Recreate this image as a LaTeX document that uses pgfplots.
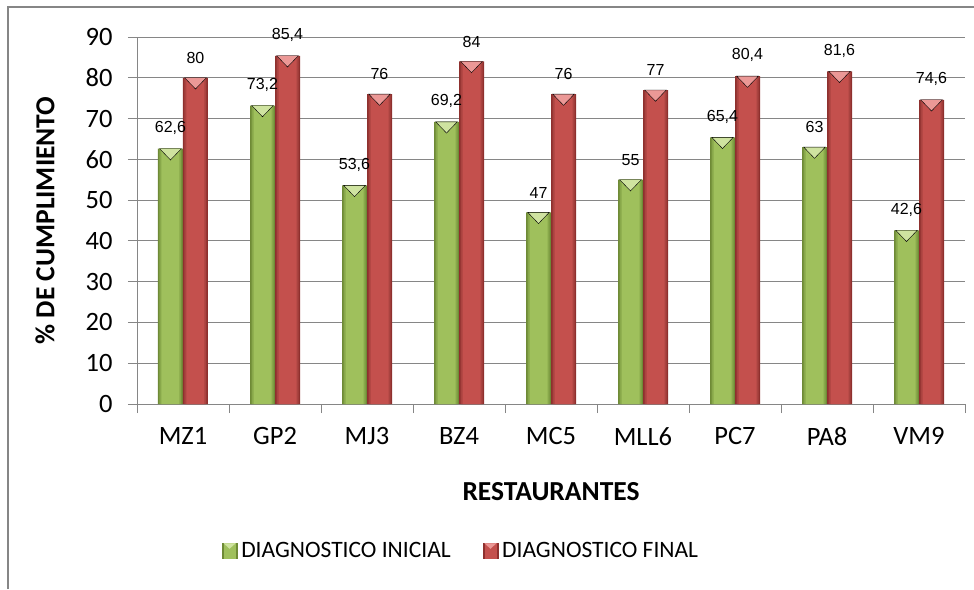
\documentclass[border=0pt]{standalone}
\usepackage{fontspec}
\setmainfont{Carlito}
\newfontfamily\arialf{Liberation Sans}
\usepackage{pgfplots}
\pgfplotsset{compat=1.18}

\definecolor{axgray}{HTML}{868686}
\definecolor{gL}{HTML}{9FC05C}
\definecolor{gM}{HTML}{88A84A}
\definecolor{gD}{HTML}{6E8A36}
\definecolor{gT}{HTML}{CFE3A0}
\definecolor{rL}{HTML}{C4504D}
\definecolor{rM}{HTML}{AA4340}
\definecolor{rD}{HTML}{8E302E}
\definecolor{rT}{HTML}{EB9896}

\pgfplotstableread{
x ini fin
0 62.6 80
1 73.2 85.4
2 53.6 76
3 69.2 84
4 47 76
5 55 77
6 65.4 80.4
7 63 81.6
8 42.6 74.6
}\datatable

\begin{document}
\begin{tikzpicture}
\path[use as bounding box] (-137pt,-185pt) rectangle (837pt,404pt);
\begin{axis}[
  at={(0pt,0pt)}, anchor=south west,
  scale only axis, width=828pt, height=367pt,
  xmin=-0.5, xmax=8.5, ymin=0, ymax=90,
  ytick={0,10,...,90},
  xtick={-0.5,0.5,...,8.5}, xticklabels={},
  extra x ticks={0,1,...,8},
  extra x tick labels={MZ1,GP2,MJ3,BZ4,MC5,MLL6,PC7,PA8,VM9},
  extra x tick style={major tick length=0pt, grid=none},
  axis x line*=bottom, axis y line*=left,
  axis line style={axgray, line width=0.9pt, -},
  tick style={axgray, line width=0.9pt},
  tick align=outside, major tick length=9pt,
  ymajorgrids, grid style={axgray, line width=0.9pt},
  ticklabel style={font=\fontsize{26.5}{27}\selectfont, text=black},
  xticklabel shift=20pt, yticklabel shift=12pt,
  /pgf/number format/assume math mode=true,
  /pgf/number format/use comma,
  /pgf/number format/1000 sep={},
  xlabel={RESTAURANTES},
  ylabel={\% DE CUMPLIMIENTO},
  every axis x label/.style={at={(axis description cs:0.5,-0.2398)}, anchor=center, font=\bfseries\fontsize{27.5}{28}\selectfont},
  every axis y label/.style={at={(axis description cs:-0.1111,0.5)}, anchor=center, rotate=90, font=\bfseries\fontsize{27.5}{28}\selectfont},
  clip=false,
  legend style={at={(axis description cs:0.3925,-0.4005)}, anchor=center, draw=none,
    font=\fontsize{23.5}{24}\selectfont, legend columns=2,
    nodes={inner xsep=4pt},
    /tikz/every even column/.append style={column sep=28pt}},
  every node near coord/.append style={font=\arialf\fontsize{16}{16}\selectfont, text=black, anchor=south, inner sep=0pt, yshift=14pt},
]
\addlegendimage{legend image code/.code={\fill[gD] (0pt,-7.5pt) rectangle (15pt,7.5pt); \fill[gL] (2pt,-7.5pt) rectangle (13pt,7.5pt); \fill[gT] (2pt,7.5pt) -- (13pt,7.5pt) -- (7.5pt,2.5pt) -- cycle;}}
\addlegendentry{DIAGNOSTICO INICIAL}
\addlegendimage{legend image code/.code={\fill[rD] (0pt,-7.5pt) rectangle (15pt,7.5pt); \fill[rL] (2pt,-7.5pt) rectangle (13pt,7.5pt); \fill[rT] (2pt,7.5pt) -- (13pt,7.5pt) -- (7.5pt,2.5pt) -- cycle;}}
\addlegendentry{DIAGNOSTICO FINAL}

% green bars: dark edge, mid, light core
\addplot[ybar, bar width=25pt, bar shift=-12.5pt, fill=gD, draw=none,
  nodes near coords, every node near coord/.append style={xshift=-12.5pt}, forget plot] table[x=x, y=ini] {\datatable};
\addplot[ybar, bar width=22pt, bar shift=-12.5pt, fill=gM, draw=none, forget plot] table[x=x, y=ini] {\datatable};
\addplot[ybar, bar width=18pt, bar shift=-12.5pt, fill=gL, draw=none, forget plot] table[x=x, y=ini] {\datatable};
% red bars
\addplot[ybar, bar width=25pt, bar shift=12.5pt, fill=rD, draw=none,
  nodes near coords, every node near coord/.append style={xshift=12.5pt}, forget plot] table[x=x, y=fin] {\datatable};
\addplot[ybar, bar width=22pt, bar shift=12.5pt, fill=rM, draw=none, forget plot] table[x=x, y=fin] {\datatable};
\addplot[ybar, bar width=18pt, bar shift=12.5pt, fill=rL, draw=none, forget plot] table[x=x, y=fin] {\datatable};

\addplot[only marks, forget plot, xshift=-12.5pt, yshift=-3.75pt, mark=triangle*, mark size=12.5pt,
  mark options={fill=gT, draw=none, rotate=180, yscale=0.6}] table[x=x, y=ini] {\datatable};
\addplot[only marks, forget plot, xshift=12.5pt, yshift=-3.75pt, mark=triangle*, mark size=12.5pt,
  mark options={fill=rT, draw=none, rotate=180, yscale=0.6}] table[x=x, y=fin] {\datatable};
\end{axis}
\draw[axgray, line width=2pt] (-129pt,-185pt) -- (-129pt,397pt) -- (837pt,397pt);
\end{tikzpicture}
\end{document}
